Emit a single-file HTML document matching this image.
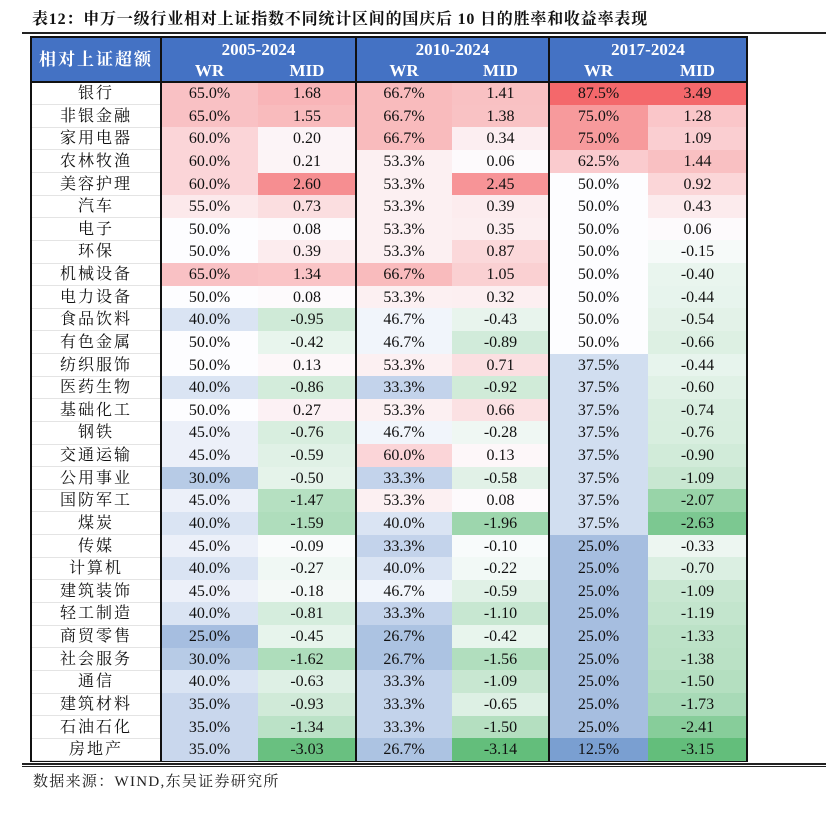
<!DOCTYPE html>
<html><head><meta charset="utf-8">
<style>
body{margin:0;width:826px;height:833px;background:#fff;position:relative;overflow:hidden;font-family:"Liberation Serif","Noto Serif CJK SC",serif;}
#title{position:absolute;left:32px;top:6px;font-size:16px;font-weight:bold;color:#111;letter-spacing:0.8px;font-family:"Liberation Serif","Noto Serif CJK SC",serif;}
.hline{position:absolute;left:22px;right:0;background:#222;}
#tbl{position:absolute;left:31px;top:37px;width:716px;}
.cell{position:absolute;text-align:center;font-size:16px;color:#111;box-sizing:border-box;}
.hd{color:#fff;font-weight:bold;background:#4472c4;}
#src{position:absolute;left:33px;top:770px;font-size:15px;letter-spacing:1.3px;color:#222;font-family:"Liberation Serif","Noto Serif CJK SC",serif;}
</style></head>
<body>
<div id="title">表12：申万一级行业相对上证指数不同统计区间的国庆后 10 日的胜率和收益率表现</div>
<div class="hline" style="top:32px;height:2px"></div>
<div id="tbl"></div>
<div class="hline" style="top:763px;height:1.5px"></div>
<div class="hline" style="top:766px;height:1px"></div>
<div id="src">数据来源：WIND,东吴证券研究所</div>
<script>
const industries=["银行","非银金融","家用电器","农林牧渔","美容护理","汽车","电子","环保","机械设备","电力设备","食品饮料","有色金属","纺织服饰","医药生物","基础化工","钢铁","交通运输","公用事业","国防军工","煤炭","传媒","计算机","建筑装饰","轻工制造","商贸零售","社会服务","通信","建筑材料","石油石化","房地产"];
const periods=["2005-2024","2010-2024","2017-2024"];
const wr1=[65.0,65.0,60.0,60.0,60.0,55.0,50.0,50.0,65.0,50.0,40.0,50.0,50.0,40.0,50.0,45.0,45.0,30.0,45.0,40.0,45.0,40.0,45.0,40.0,25.0,30.0,40.0,35.0,35.0,35.0];
const mid1=[1.68,1.55,0.20,0.21,2.60,0.73,0.08,0.39,1.34,0.08,-0.95,-0.42,0.13,-0.86,0.27,-0.76,-0.59,-0.50,-1.47,-1.59,-0.09,-0.27,-0.18,-0.81,-0.45,-1.62,-0.63,-0.93,-1.34,-3.03];
const wr2=[66.7,66.7,66.7,53.3,53.3,53.3,53.3,53.3,66.7,53.3,46.7,46.7,53.3,33.3,53.3,46.7,60.0,33.3,53.3,40.0,33.3,40.0,46.7,33.3,26.7,26.7,33.3,33.3,33.3,26.7];
const mid2=[1.41,1.38,0.34,0.06,2.45,0.39,0.35,0.87,1.05,0.32,-0.43,-0.89,0.71,-0.92,0.66,-0.28,0.13,-0.58,0.08,-1.96,-0.10,-0.22,-0.59,-1.10,-0.42,-1.56,-1.09,-0.65,-1.50,-3.14];
const wr3=[87.5,75.0,75.0,62.5,50.0,50.0,50.0,50.0,50.0,50.0,50.0,50.0,37.5,37.5,37.5,37.5,37.5,37.5,37.5,37.5,25.0,25.0,25.0,25.0,25.0,25.0,25.0,25.0,25.0,12.5];
const mid3=[3.49,1.28,1.09,1.44,0.92,0.43,0.06,-0.15,-0.40,-0.44,-0.54,-0.66,-0.44,-0.60,-0.74,-0.76,-0.90,-1.09,-2.07,-2.63,-0.33,-0.70,-1.09,-1.19,-1.33,-1.38,-1.50,-1.73,-2.41,-3.15];

const T=document.getElementById('tbl');
const colX=[0,130,227,325,421,518,617,716];
const hdH=45, rowH=22.63;
function mix(c,t){t=Math.max(0,Math.min(1,t));const w=[253,253,255];return 'rgb('+w.map((v,i)=>Math.round(v+(c[i]-v)*t)).join(',')+')';}
const RED=[244,104,107], BLUE=[122,159,209], GREEN=[99,190,123];
function wrColor(v){return v>=50?mix(RED,(v-50)/37.5):mix(BLUE,(50-v)/37.5);}
function midColor(v){return v>=0?mix(RED,v/3.49):mix(GREEN,-v/3.15);}
function add(x,y,w,h,txt,cls,bg,name){const d=document.createElement('div');d.className='cell '+(cls||'');
d.style.left=x+'px';d.style.top=y+'px';d.style.width=w+'px';d.style.height=h+'px';d.style.lineHeight=h+'px';
if(bg)d.style.background=bg;d.textContent=txt;


T.appendChild(d);return d;}
let h=add(0,0,colX[1],hdH,'相对上证超额','hd',null,'row-header-title');h.style.fontSize='17px';h.style.letterSpacing='2px';
periods.forEach((p,g)=>{
  const x0=colX[1+g*2],x1=colX[3+g*2],xm=colX[2+g*2];
  let a=add(x0,0,x1-x0,24,p,'hd',null,'period-header');a.style.lineHeight='26px';a.style.fontSize='17px';
  let b=add(x0,24,xm-x0,21,'WR','hd',null,'wr-header');b.style.lineHeight='20px';b.style.fontSize='17px';
  let c=add(xm,24,x1-xm,21,'MID','hd',null,'mid-header');c.style.lineHeight='20px';c.style.fontSize='17px';
});
const wrs=[wr1,wr2,wr3], mids=[mid1,mid2,mid3];
industries.forEach((ind,r)=>{
  const y=hdH+r*rowH;
  let l=add(0,y,colX[1],rowH+0.5,ind,'',null,'industry-label');l.style.letterSpacing='2px';l.style.borderBottom='1px solid #e4e4e4';
  for(let g=0;g<3;g++){
    const x0=colX[1+g*2],xm=colX[2+g*2],x1=colX[3+g*2];
    add(x0,y,xm-x0,rowH+0.5,wrs[g][r].toFixed(1)+'%','',wrColor(wrs[g][r]),'wr-cell');
    add(xm,y,x1-xm,rowH+0.5,mids[g][r].toFixed(2),'',midColor(mids[g][r]),'mid-cell');
  }
});
const totH=hdH+industries.length*rowH;
function line(x,y,w,hh,name){const d=document.createElement('div');d.style.cssText='position:absolute;background:#111;left:'+x+'px;top:'+y+'px;width:'+w+'px;height:'+hh+'px';


T.appendChild(d);}
line(-1,-1,colX[7]+2,1.5,'table-border-top');
line(-1,totH,colX[7]+2,1.5,'table-border-bottom');
line(-1,hdH-1,colX[7]+2,1.5,'header-border');
[0,1,3,5,7].forEach(i=>line(colX[i]-1,-1,1.5,totH+2,'group-border'));
</script>
</body></html>
